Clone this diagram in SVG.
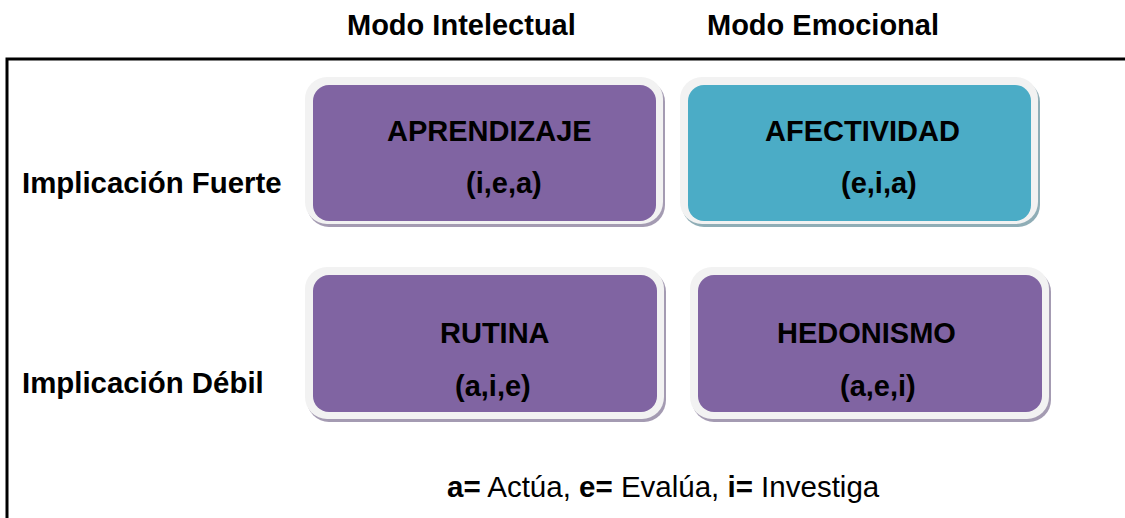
<svg xmlns="http://www.w3.org/2000/svg" width="1125" height="518" viewBox="0 0 1125 518">
<style>
text{font-family:"Liberation Sans",Arial,sans-serif;font-size:29px;font-weight:bold;fill:#000}
.reg{font-weight:normal}
.lg{font-size:29.5px}
.rim{fill:#f2f2f2}
.shp{fill:#a49bb2}
.sht{fill:#8fadb6}
.pur{fill:#8064a2}
.teal{fill:#4bacc6}
</style>
<rect width="1125" height="518" fill="#fff"/>
<polyline points="7,518 7,59 1125,59" fill="none" stroke="#000" stroke-width="3"/>
<g id="header">
<text x="347" y="35">Modo Intelectual</text>
<text x="707" y="35">Modo Emocional</text>
</g>
<g id="rows">
<text x="22" y="193" style="font-size:29.4px">Implicación Fuerte</text>
<text x="22" y="393" style="font-size:29.4px">Implicación Débil</text>
</g>
<g id="aprendizaje">
<rect class="shp" x="307" y="80" width="358" height="147" rx="22"/>
<rect class="rim" x="305" y="77" width="358" height="147" rx="22"/>
<rect class="pur" x="313" y="85" width="343" height="136" rx="16"/>
<text x="387" y="141">APRENDIZAJE</text>
<text x="466" y="193">(i,e,a)</text>
</g>
<g id="afectividad">
<rect class="sht" x="682" y="80" width="358" height="147" rx="22"/>
<rect class="rim" x="680" y="77" width="358" height="147" rx="22"/>
<rect class="teal" x="688" y="85" width="343" height="136" rx="16"/>
<text x="765" y="141">AFECTIVIDAD</text>
<text x="841" y="193">(e,i,a)</text>
</g>
<g id="rutina">
<rect class="shp" x="307" y="270" width="359" height="152" rx="22"/>
<rect class="rim" x="305" y="267" width="359" height="152" rx="22"/>
<rect class="pur" x="313" y="275" width="344" height="137" rx="16"/>
<text x="440" y="343">RUTINA</text>
<text x="455" y="396">(a,i,e)</text>
</g>
<g id="hedonismo">
<rect class="shp" x="692" y="270" width="359" height="152" rx="22"/>
<rect class="rim" x="690" y="267" width="359" height="152" rx="22"/>
<rect class="pur" x="698" y="275" width="344" height="137" rx="16"/>
<text x="777" y="343">HEDONISMO</text>
<text x="840" y="396">(a,e,i)</text>
</g>
<g id="legend">
<text class="lg" x="447" y="497">a=<tspan class="reg"> Actúa, </tspan>e=<tspan class="reg"> Evalúa, </tspan>i=<tspan class="reg"> Investiga</tspan></text>
</g>
<g id="connectors"/>
</svg>
